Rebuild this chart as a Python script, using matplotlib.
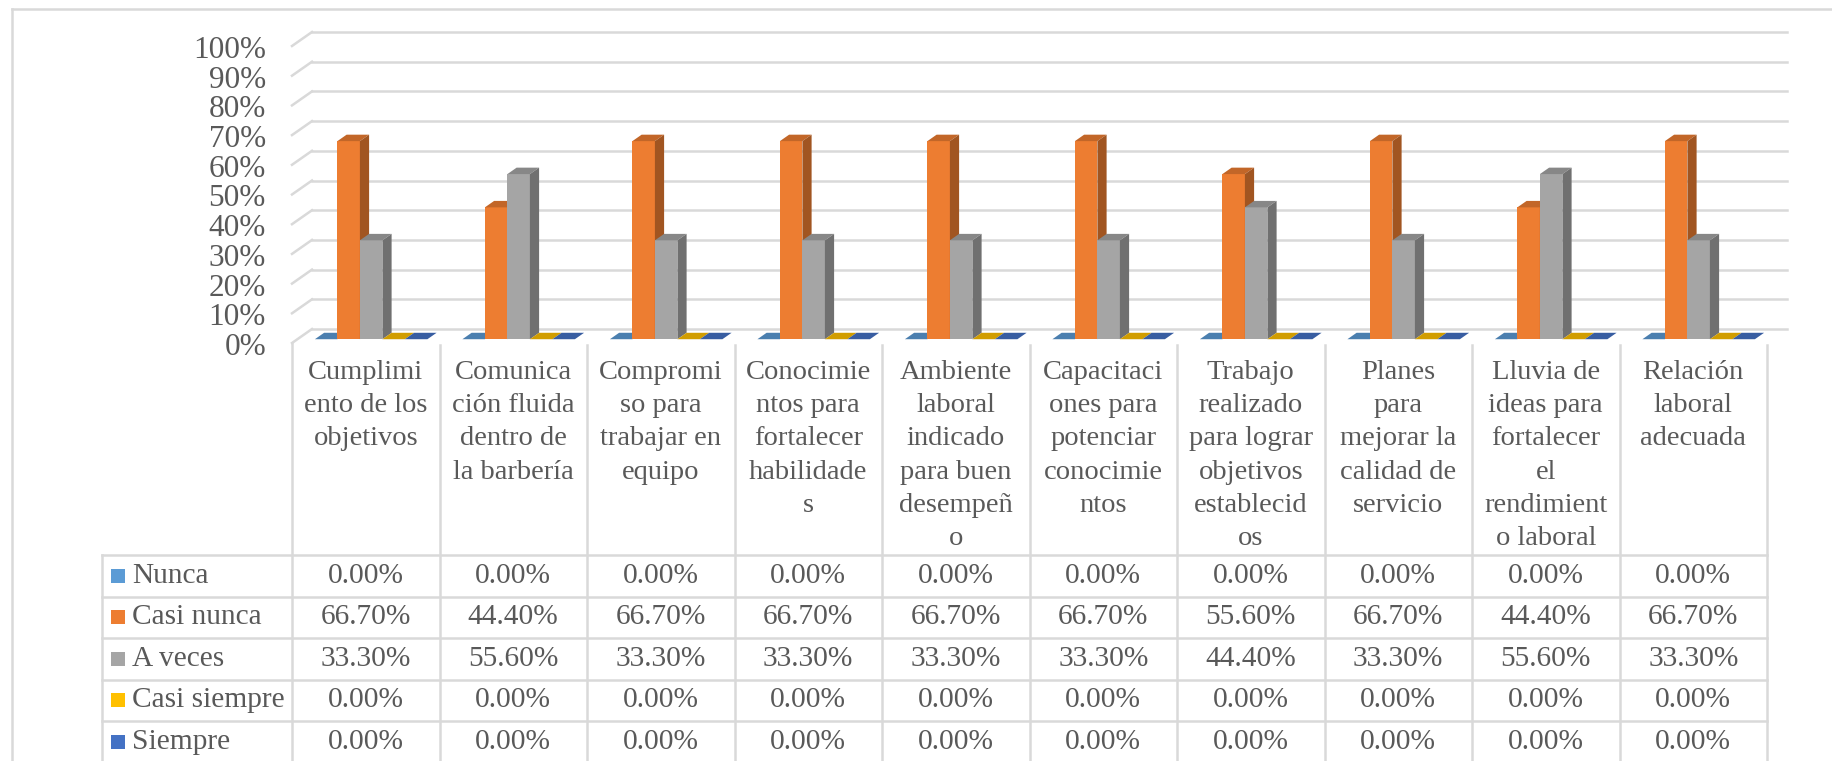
import matplotlib
matplotlib.use('Agg')
import matplotlib.pyplot as plt
from matplotlib.patches import Polygon
import numpy as np

plt.rcParams['font.family'] = ['Liberation Serif', 'DejaVu Serif']

categories = ["Cumplimi\nento de los\nobjetivos",
              "Comunica\nción fluida\ndentro de\nla barbería",
              "Compromi\nso para\ntrabajar en\nequipo",
              "Conocimie\nntos para\nfortalecer\nhabilidade\ns",
              "Ambiente\nlaboral\nindicado\npara buen\ndesempeñ\no",
              "Capacitaci\nones para\npotenciar\nconocimie\nntos",
              "Trabajo\nrealizado\npara lograr\nobjetivos\nestablecid\nos",
              "Planes\npara\nmejorar la\ncalidad de\nservicio",
              "Lluvia de\nideas para\nfortalecer\nel\nrendimient\no laboral",
              "Relación\nlaboral\nadecuada"]
series = ["Nunca", "Casi nunca", "A veces", "Casi siempre", "Siempre"]
nunca = [0.0, 0.0, 0.0, 0.0, 0.0, 0.0, 0.0, 0.0, 0.0, 0.0]
casi_nunca = [0.667, 0.444, 0.667, 0.667, 0.667, 0.667, 0.556, 0.667, 0.444, 0.667]
a_veces = [0.333, 0.556, 0.333, 0.333, 0.333, 0.333, 0.444, 0.333, 0.556, 0.333]
casi_siempre = [0.0, 0.0, 0.0, 0.0, 0.0, 0.0, 0.0, 0.0, 0.0, 0.0]
siempre = [0.0, 0.0, 0.0, 0.0, 0.0, 0.0, 0.0, 0.0, 0.0, 0.0]
values = [nunca, casi_nunca, a_veces, casi_siempre, siempre]
colors = ['#5B9BD5', '#ED7D31', '#A5A5A5', '#FFC000', '#4472C4']
yticks = [0, 0.1, 0.2, 0.3, 0.4, 0.5, 0.6, 0.7, 0.8, 0.9, 1.0]

txt = '#595959'
grid = '#D9D9D9'
fs = 20.5
fs_tab = 21.2

W, H = 1832, 761
fig = plt.figure(figsize=(W / 100, H / 100), dpi=100)

# layout (pixels)
col_x0, col_w = 292, 147.5
floor_y, unit_h = 343, 297
dep_x, dep_y = 20, 14

lay = fig.add_axes([0, 0, 1, 1], zorder=0)
lay.set_xlim(0, W)
lay.set_ylim(H, 0)
lay.axis('off')

ax = fig.add_axes([col_x0 / W, (H - floor_y) / H, 10 * col_w / W, unit_h / H], zorder=1)
ax.set_xlim(-0.5, 9.5)
ax.set_ylim(0, 1)
ax.axis('off')
ax.patch.set_alpha(0)

ddx = dep_x / col_w
ddy = dep_y / unit_h

# back wall gridlines + left diagonals
for v in yticks:
    ax.plot([-0.5 + ddx, 9.5 + ddx], [v + ddy, v + ddy], color=grid, lw=1.8, clip_on=False, zorder=0.5)
    ax.plot([-0.5, -0.5 + ddx], [v, v + ddy], color=grid, lw=1.8, clip_on=False, zorder=0.5)
    ax.text(-0.5 - 26 / col_w, v - 0.015, '{:.0f}%'.format(v * 100), ha='right', va='center',
            fontsize=22.5, color=txt)

# 3D-looking bars
def shade(c, k):
    r, g, b = matplotlib.colors.to_rgb(c)
    return (r * k, g * k, b * k)

bw = 22.5 / col_w
f = 0.27
tdx, tdy = 0.46 * ddx, 0.46 * ddy
x = np.arange(len(categories))
for j, (vals, c) in enumerate(zip(values, colors)):
    xs = x + (j - 2) * bw + f * ddx
    y0 = f * ddy
    ax.bar(xs, vals, width=bw, bottom=y0, color=c, linewidth=0, clip_on=False, zorder=2 + j)
    for xc, v in zip(xs, vals):
        xl = xc - bw / 2
        xr = xc + bw / 2
        top = [(xl, y0 + v), (xr, y0 + v), (xr + tdx, y0 + v + tdy), (xl + tdx, y0 + v + tdy)]
        ax.add_patch(Polygon(top, closed=True, color=shade(c, 0.82), lw=0, clip_on=False, zorder=2 + j))
        if v > 0:
            side = [(xr, y0), (xr + tdx, y0 + tdy), (xr + tdx, y0 + v + tdy), (xr, y0 + v)]
            ax.add_patch(Polygon(side, closed=True, color=shade(c, 0.68), lw=0, clip_on=False, zorder=2 + j))

# outer frame
lay.plot([12, W], [9, 9], color=grid, lw=1.8)
lay.plot([12, 12], [9, H], color=grid, lw=1.8)

# data table
row_top, row_h = 555, 41.5
tab_left = 102
tab_right = col_x0 + 10 * col_w
for k in range(11):
    xk = col_x0 + k * col_w
    lay.plot([xk, xk], [floor_y if k == 0 else floor_y + 2, H], color=grid, lw=1.8)
lay.plot([tab_left, tab_left], [row_top, H], color=grid, lw=1.8)
for r in range(len(series)):
    yr = row_top + r * row_h
    lay.plot([tab_left, tab_right], [yr, yr], color=grid, lw=1.8)

for i, cat in enumerate(categories):
    lay.text(col_x0 + (i + 0.5) * col_w, 360, cat, ha='center', va='top', fontsize=fs,
             color=txt, linespacing=1.43)

for r, (name, vals, c) in enumerate(zip(series, values, colors)):
    yc = row_top + (r + 0.5) * row_h
    lay.add_patch(plt.Rectangle((111, yc - 7), 14, 14, color=c, lw=0))
    lay.text(132, yc, name, ha='left', va='center', fontsize=fs_tab, color=txt)
    for i, v in enumerate(vals):
        lay.text(col_x0 + (i + 0.5) * col_w, yc, '{:.2f}%'.format(v * 100), ha='center',
                 va='center', fontsize=fs_tab, color=txt)

fig.savefig('out.png', dpi=100)
